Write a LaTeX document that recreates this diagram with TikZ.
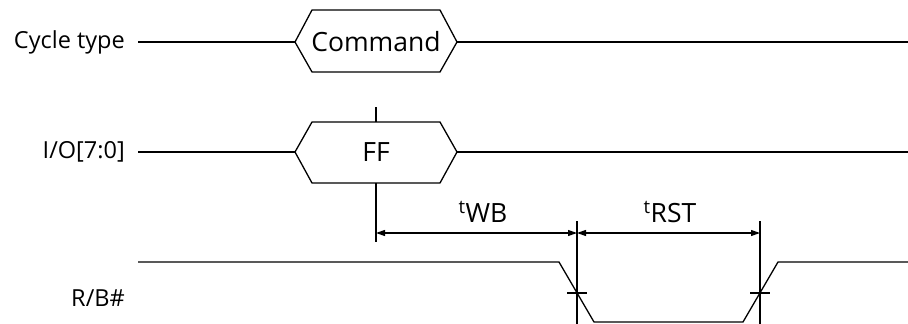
\documentclass[tikz,border=0pt]{standalone}
\usepackage{fontspec}
\setmainfont{Open Sans}
\usetikzlibrary{arrows.meta}
\tikzset{
  sig/.style={line width=1.3pt, black},
  dim/.style={line width=1.1pt, {Triangle[length=9pt,width=6pt]}-{Triangle[length=9pt,width=6pt]}},
  lbl/.style={font=\fontsize{23.5}{26}\selectfont, anchor=east, inner sep=0pt},
  big/.style={font=\fontsize{26.5}{30}\selectfont, inner sep=0pt},
}
\begin{document}
\begin{tikzpicture}[x=1pt,y=-1pt]
\useasboundingbox (0,0) rectangle (908,324);
% labels
\node[lbl] (lct) at (125,42) {Cycle type};
\node[lbl] (lio) at (125,152) {I/O[7:0]};
\node[lbl] (lrb) at (125,298) {R/B\#};
% cycle type row
\coordinate (ctA) at (138,42);
\coordinate (ctL) at (295,42);
\coordinate (ctR) at (457,42);
\coordinate (ctE) at (908,42);
\draw[sig] (ctA) -- (ctL);
\draw[sig] (ctL) -- (312,10) -- (440,10) -- (ctR) -- (440,72) -- (312,72) -- cycle;
\draw[sig] (ctR) -- (ctE);
\node[big] (cmd) at (376,42) {Command};
% I/O row
\coordinate (ioA) at (138,152);
\coordinate (ioL) at (295,152);
\coordinate (ioR) at (457,152);
\coordinate (ioE) at (908,152);
\draw[sig] (ioA) -- (ioL);
\draw[sig] (ioL) -- (312,122) -- (440,122) -- (ioR) -- (440,183) -- (312,183) -- cycle;
\draw[sig] (ioR) -- (ioE);
\node[big] (ff) at (376,152) {FF};
\coordinate (v1a) at (376,107);
\coordinate (v1b) at (376,122);
\coordinate (v1c) at (376,183);
\coordinate (v1d) at (376,242);
\draw[line width=1.1pt] (v1a) -- (v1b);
\draw[line width=1.1pt] (v1c) -- (v1d);
% timing verticals
\coordinate (v2a) at (577,221);
\coordinate (v2b) at (577,324);
\coordinate (v3a) at (760,221);
\coordinate (v3b) at (760,324);
\draw[line width=1.1pt] (v2a) -- (v2b);
\draw[line width=1.1pt] (v3a) -- (v3b);
% dimension arrows
\coordinate (d1) at (376,233);
\coordinate (d2) at (577,233);
\coordinate (d3) at (760,233);
\draw[dim] (d1) -- (d2);
\draw[dim] (d2) -- (d3);
\node[big] (twb) at (483,212) {\textsuperscript{t}WB};
\node[big] (trst) at (670,212) {\textsuperscript{t}RST};
% R/B# signal
\coordinate (rbA) at (138,262);
\coordinate (rbE) at (908,262);
\draw[sig] (rbA) -- (559,262) -- (594,322) -- (743,322) -- (778,262) -- (rbE);
\draw[line width=1.1pt] (567,293) -- (587,293);
\draw[line width=1.1pt] (750,293) -- (770,293);
\end{tikzpicture}
\end{document}
